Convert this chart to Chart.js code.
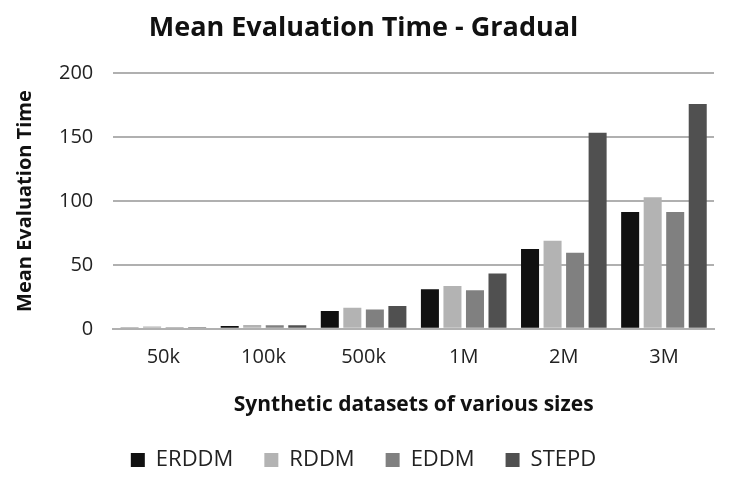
<!DOCTYPE html>
<html>
<head>
<meta charset="utf-8">
<script src="https://cdn.jsdelivr.net/npm/chart.js@4/dist/chart.umd.min.js"></script>
<style>
  html, body { margin: 0; padding: 0; background: #fff; }
  #wrap { width: 732px; height: 481px; }
</style>
</head>
<body>
<div id="wrap"><canvas id="chart" width="732" height="481"></canvas></div>
<script>
/* ---------- DATA ---------- */
const categories = ['50k', '100k', '500k', '1M', '2M', '3M'];
const erddm = [1.0, 2.1, 13.9, 31, 62.5, 91.5];
const rddm  = [1.8, 2.9, 16.5, 33.5, 69, 103];
const eddm  = [1.3, 2.8, 15.2, 30.2, 59.5, 91.5];
const stepd = [1.3, 2.8, 17.9, 43.3, 153.5, 176];
const yTicks = [0, 50, 100, 150, 200];

const FONT = "'Open Sans', 'Liberation Sans', sans-serif";

new Chart(document.getElementById('chart').getContext('2d'), {
  type: 'bar',
  data: {
    labels: categories,
    datasets: [
      { label: 'ERDDM', data: erddm, backgroundColor: '#111111' },
      { label: 'RDDM',  data: rddm,  backgroundColor: '#b3b3b3' },
      { label: 'EDDM',  data: eddm,  backgroundColor: '#808080' },
      { label: 'STEPD', data: stepd, backgroundColor: '#505050' }
    ]
  },
  options: {
    responsive: false,
    animation: false,
    devicePixelRatio: 1,
    layout: { padding: { left: 13, right: 18, top: 4, bottom: 0 } },
    datasets: { bar: { barPercentage: 0.8, categoryPercentage: 0.9 } },
    plugins: {
      title: {
        display: true,
        text: 'Mean Evaluation Time - Gradual',
        color: '#111',
        font: { family: FONT, size: 27, weight: 'bold' },
        padding: { top: 8, bottom: 29 }
      },
      legend: {
        position: 'bottom',
        labels: {
          color: '#222',
          font: { family: FONT, size: 22 },
          boxWidth: 14, boxHeight: 14,
          padding: 31
        }
      },
      tooltip: { enabled: false }
    },
    scales: {
      x: {
        grid: { display: false, drawTicks: false },
        border: { display: true, color: '#b0b0b0', width: 2 },
        ticks: { color: '#222', font: { family: FONT, size: 20 }, padding: 16 },
        title: {
          display: true,
          text: 'Synthetic datasets of various sizes',
          color: '#111',
          font: { family: FONT, size: 21, weight: 'bold' },
          padding: { top: 8, bottom: 0 }
        }
      },
      y: {
        min: 0, max: 200,
        afterBuildTicks: (axis) => { axis.ticks = yTicks.map(v => ({ value: v })); },
        grid: { color: '#b0b0b0', lineWidth: 2, drawTicks: false },
        border: { display: false },
        ticks: { color: '#222', font: { family: FONT, size: 20 }, padding: 20 },
        title: {
          display: true,
          text: 'Mean Evaluation Time',
          color: '#111',
          font: { family: FONT, size: 20, weight: 'bold' },
          padding: { top: 0, bottom: 2 }
        }
      }
    }
  }
});
</script>
</body>
</html>
